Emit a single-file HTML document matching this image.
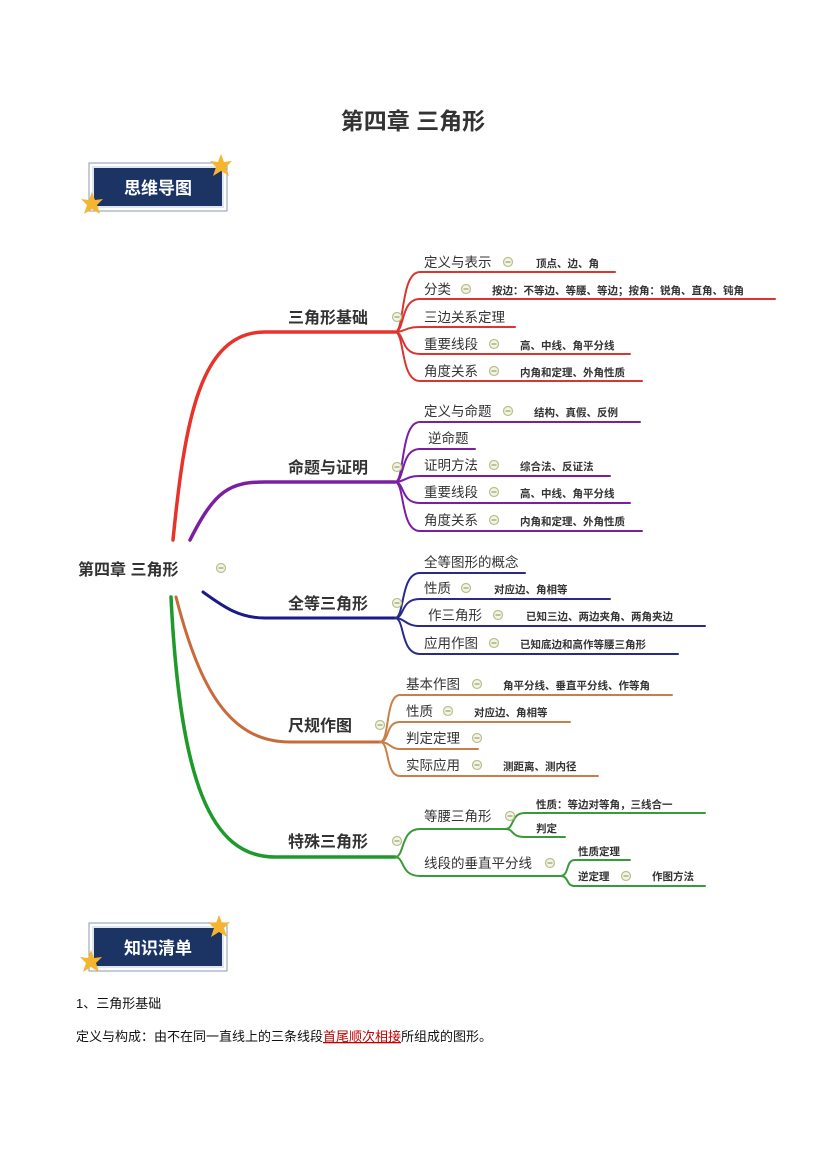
<!DOCTYPE html>
<html><head><meta charset="utf-8"><style>
body{margin:0;background:#fff;}
svg text{font-family:"Liberation Sans","Noto Sans CJK SC",sans-serif;}
.b{font-weight:bold;fill:#333;}
</style></head><body>
<svg width="827" height="1169" viewBox="0 0 827 1169" xmlns="http://www.w3.org/2000/svg">
<defs>
<g id="st"><polygon points="0,-12 3,-4 11,-5 5,1 8,10 0,5 -8,10 -5,1 -11,-5 -3,-4" fill="#f5b52e"/></g>
<g id="cm"><circle r="4.5" fill="#f4f4e6" stroke="#b8bf8c" stroke-width="1.2"/><line x1="-2.5" y1="0" x2="2.5" y2="0" stroke="#9aa06a" stroke-width="1.2"/></g>
</defs>
<text x="413" y="129" text-anchor="middle" font-size="23" class="b" fill="#111">第四章 三角形</text>

<rect x="89" y="163" width="138" height="48" fill="#fff" stroke="#8a98b0" stroke-width="1"/>
<rect x="93" y="167" width="130" height="40" fill="#1b3464" stroke="#dfe6ef" stroke-width="2"/>
<text x="158" y="194" text-anchor="middle" font-size="17" font-weight="bold" fill="#fff">思维导图</text>
<use href="#st" x="221" y="166"/><use href="#st" x="92" y="204"/>
<rect x="89" y="923" width="138" height="48" fill="#fff" stroke="#8a98b0" stroke-width="1"/>
<rect x="93" y="927" width="130" height="40" fill="#1b3464" stroke="#dfe6ef" stroke-width="2"/>
<text x="158" y="954" text-anchor="middle" font-size="17" font-weight="bold" fill="#fff">知识清单</text>
<use href="#st" x="219" y="927"/><use href="#st" x="91" y="962"/>

<text x="78" y="575" font-size="16" class="b">第四章 三角形</text>
<use href="#cm" x="221" y="568"/>

<g fill="none" stroke-linecap="round">
<path d="M173,540 C185,420 200,332 265,332 L395,332" stroke="#e8332a" stroke-width="3.5"/>
<g stroke="#d8362f" stroke-width="2">
<path d="M395,332 C405,332 400,272 420,272 L615,272"/>
<path d="M395,332 C405,332 400,299 420,299 L775,299"/>
<path d="M395,332 C405,332 405,327 420,327 L515,327"/>
<path d="M395,332 C405,332 400,354 420,354 L630,354"/>
<path d="M395,332 C405,332 400,381 420,381 L642,381"/>
</g>
<path d="M190,540 C215,490 230,482 265,482 L395,482" stroke="#7b1fa2" stroke-width="3.5"/>
<g stroke="#7b1fa2" stroke-width="2">
<path d="M395,482 C405,482 400,422 420,422 L640,422"/>
<path d="M395,482 C405,482 400,449 420,449 L475,449"/>
<path d="M395,482 C405,482 405,476 420,476 L610,476"/>
<path d="M395,482 C405,482 400,503 420,503 L630,503"/>
<path d="M395,482 C405,482 400,531 420,531 L642,531"/>
</g>
<path d="M203,592 C225,608 240,618 265,618 L395,618" stroke="#1a1a8a" stroke-width="3"/>
<g stroke="#2a2a8a" stroke-width="2">
<path d="M395,618 C405,618 400,573 420,573 L525,573"/>
<path d="M395,618 C405,618 400,599 420,599 L610,599"/>
<path d="M395,618 C405,618 405,626 420,626 L705,626"/>
<path d="M395,618 C405,618 400,654 420,654 L678,654"/>
</g>
<path d="M176,597 C200,690 230,742 290,742 L380,742" stroke="#c86a3a" stroke-width="3"/>
<g stroke="#c8804a" stroke-width="2">
<path d="M380,742 C390,742 385,695 400,695 L672,695"/>
<path d="M380,742 C390,742 385,722 400,722 L570,722"/>
<path d="M380,742 C390,742 390,749 400,749 L478,749"/>
<path d="M380,742 C390,742 385,776 400,776 L598,776"/>
</g>
<path d="M171,597 C180,780 210,857 275,857 L395,857" stroke="#1e9a2a" stroke-width="3.5"/>
<g stroke="#3a9a3a" stroke-width="2">
<path d="M395,857 C405,857 400,829 420,829 L505,829"/>
<path d="M395,857 C405,857 400,876 420,876 L560,876"/>
<path d="M505,829 C515,829 510,813 525,813 L705,813"/>
<path d="M505,829 C515,829 510,837 525,837 L565,837"/>
<path d="M560,876 C570,876 565,860 575,860 L630,860"/>
<path d="M560,876 C570,876 565,886 575,886 L705,886"/>
</g>
</g>

<g font-size="16" class="b">
<text x="288" y="323">三角形基础</text>
<text x="288" y="473">命题与证明</text>
<text x="288" y="609">全等三角形</text>
<text x="288" y="731">尺规作图</text>
<text x="288" y="847">特殊三角形</text>
</g>
<use href="#cm" x="397" y="317"/><use href="#cm" x="397" y="467"/><use href="#cm" x="397" y="603"/><use href="#cm" x="380" y="725"/><use href="#cm" x="397" y="841"/>

<g font-size="13.5" fill="#333">
<text x="424" y="267">定义与表示</text><use href="#cm" x="508" y="262"/>
<text x="424" y="294">分类</text><use href="#cm" x="466" y="289"/>
<text x="424" y="322">三边关系定理</text>
<text x="424" y="349">重要线段</text><use href="#cm" x="494" y="344"/>
<text x="424" y="376">角度关系</text><use href="#cm" x="494" y="371"/>
<text x="424" y="416">定义与命题</text><use href="#cm" x="508" y="411"/>
<text x="428" y="443">逆命题</text>
<text x="424" y="470">证明方法</text><use href="#cm" x="494" y="465"/>
<text x="424" y="497">重要线段</text><use href="#cm" x="494" y="492"/>
<text x="424" y="525">角度关系</text><use href="#cm" x="494" y="520"/>
<text x="424" y="567">全等图形的概念</text>
<text x="424" y="593">性质</text><use href="#cm" x="466" y="588"/>
<text x="428" y="620">作三角形</text><use href="#cm" x="498" y="615"/>
<text x="424" y="648">应用作图</text><use href="#cm" x="494" y="643"/>
<text x="406" y="689">基本作图</text><use href="#cm" x="477" y="684"/>
<text x="406" y="716">性质</text><use href="#cm" x="448" y="711"/>
<text x="406" y="743">判定定理</text><use href="#cm" x="477" y="738"/>
<text x="406" y="770">实际应用</text><use href="#cm" x="477" y="765"/>
<text x="424" y="821">等腰三角形</text><use href="#cm" x="510" y="816"/>
<text x="424" y="868">线段的垂直平分线</text><use href="#cm" x="550" y="863"/>
</g>
<g font-size="10.5" fill="#333" font-weight="bold">
<text x="536" y="267">顶点、边、角</text>
<text x="492" y="294">按边：不等边、等腰、等边；按角：锐角、直角、钝角</text>
<text x="520" y="349">高、中线、角平分线</text>
<text x="520" y="376">内角和定理、外角性质</text>
<text x="534" y="416">结构、真假、反例</text>
<text x="520" y="470">综合法、反证法</text>
<text x="520" y="497">高、中线、角平分线</text>
<text x="520" y="525">内角和定理、外角性质</text>
<text x="494" y="593">对应边、角相等</text>
<text x="526" y="620">已知三边、两边夹角、两角夹边</text>
<text x="520" y="648">已知底边和高作等腰三角形</text>
<text x="503" y="689">角平分线、垂直平分线、作等角</text>
<text x="474" y="716">对应边、角相等</text>
<text x="503" y="770">测距离、测内径</text>
<text x="536" y="808">性质：等边对等角，三线合一</text>
<text x="536" y="832">判定</text>
<text x="578" y="855">性质定理</text>
<text x="578" y="880">逆定理</text><use href="#cm" x="626" y="876"/>
<text x="652" y="880">作图方法</text>
</g>

<g font-size="13" fill="#111">
<text x="76" y="1008">1、三角形基础</text>
<text x="76" y="1041">定义与构成：由不在同一直线上的三条线段<tspan fill="#c00000" text-decoration="underline">首尾顺次相接</tspan>所组成的图形。</text>
</g>
</svg>
</body></html>
